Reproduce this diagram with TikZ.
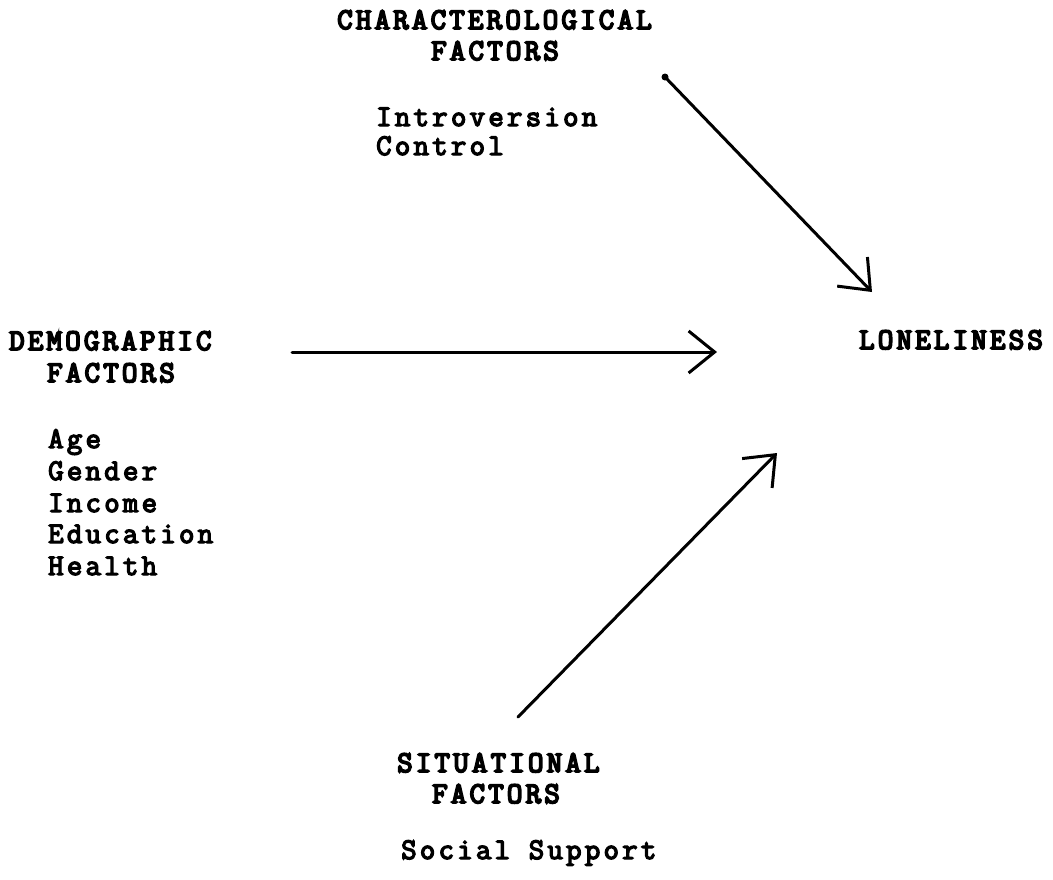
\documentclass[tikz,border=0pt]{standalone}
\usepackage{fontspec}
\usetikzlibrary{arrows.meta}
\newfontfamily\twhead[FakeBold=6,LetterSpace=10.8]{Latin Modern Mono}
\newfontfamily\twitem[FakeBold=4.5,LetterSpace=10.8]{Latin Modern Mono}
\tikzset{
  head/.style={anchor=base west, inner sep=0pt, font=\twhead\fontsize{30}{32}\selectfont},
  item/.style={anchor=base west, inner sep=0pt, font=\twitem\fontsize{30}{32}\selectfont},
  arr/.style={-{Straight Barb[length=26pt,width=42pt,line width=3pt]}, line width=3pt, line cap=round}
}
\begin{document}
\begin{tikzpicture}[x=1pt,y=-1pt]
\useasboundingbox (0,0) rectangle (1053,879);
% characterological
\node[head] (char1) at (337,29) {CHARACTEROLOGICAL};
\node[head] (char2) at (431,60) {FACTORS};
\node[item] (intro) at (376,126) {Introversion};
\node[item] (contr) at (376,155) {Control};
% demographic
\node[head] (dem1) at (9,350) {DEMOGRAPHIC};
\node[head] (dem2) at (47,382) {FACTORS};
\node[item] (age) at (48,448) {Age};
\node[item] (gender) at (48,480) {Gender};
\node[item] (income) at (48,512) {Income};
\node[item] (educ) at (48,543) {Education};
\node[item] (health) at (48,575) {Health};
% loneliness
\node[head] (lone) at (859,349) {LONELINESS};
% situational
\node[head] (sit1) at (397,772) {SITUATIONAL};
\node[head] (sit2) at (432,803) {FACTORS};
\node[item] (soc) at (401,859) {Social Support};
% arrow ends
\coordinate (a1s) at (665,77);
\coordinate (a1e) at (872,292);
\coordinate (a2s) at (292,352);
\coordinate (a2e) at (717,352);
\coordinate (a3s) at (518,717);
\coordinate (a3e) at (777,453);
\fill (a1s) circle (3.5pt);
\draw[arr] (a1s) -- (a1e);
\draw[arr] (a2s) -- (a2e);
\draw[arr] (a3s) -- (a3e);
\end{tikzpicture}
\end{document}
